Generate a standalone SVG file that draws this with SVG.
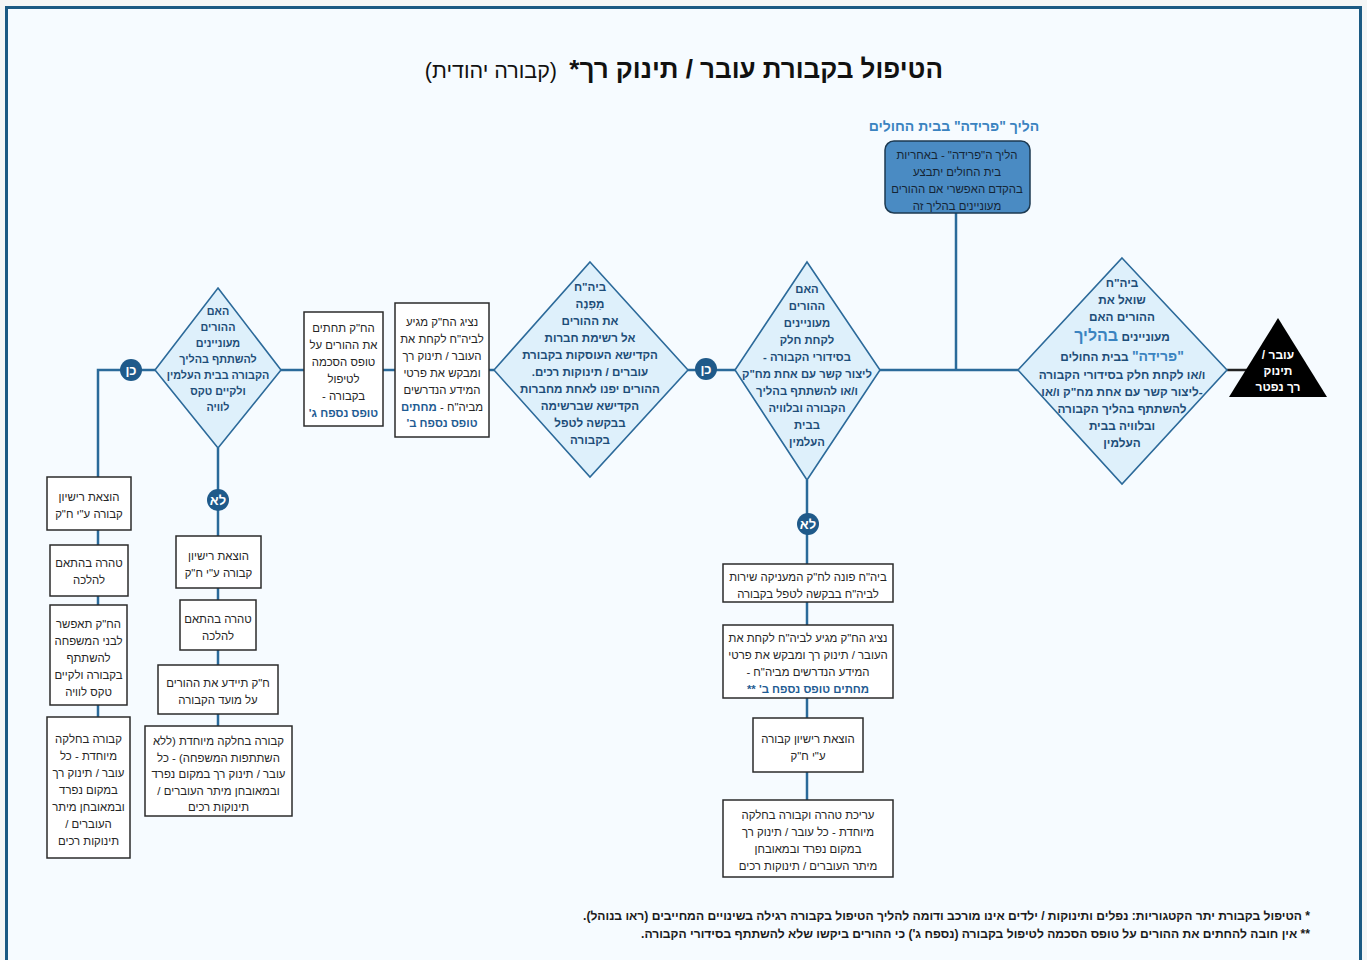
<svg xmlns="http://www.w3.org/2000/svg" width="1367" height="960" viewBox="0 0 1367 960">
<style>
text{font-family:"Liberation Sans","DejaVu Sans",sans-serif;direction:rtl;text-anchor:middle}
.bx{fill:#ffffff;stroke:#2b2b2b;stroke-width:1.5}
.dm{fill:#def0fb;stroke:#2c6a9a;stroke-width:1.6}
.bt{font-size:11.4px;fill:#262626}
.dt{font-size:11.6px;fill:#1d4d78;font-weight:bold}
.hb{font-weight:bold;fill:#1f5c93}
.ln{stroke:#2a6a9a;stroke-width:2.5;fill:none}
.cc{fill:#1f5a8a}
.ct{font-size:13px;font-weight:bold;fill:#ffffff}
</style>
<rect x="0" y="0" width="1367" height="960" fill="#f4f6f6"/>
<rect x="6.5" y="7.5" width="1354" height="960" fill="#f6fbff" stroke="#1b5a83" stroke-width="3"/>

<g id="title">
<text x="943" y="78" style="font-size:26px;font-weight:bold;fill:#111;text-anchor:start">הטיפול בקבורת עובר / תינוק רך*</text>
<text x="557" y="78" style="font-size:21.5px;fill:#111;text-anchor:start">(קבורה יהודית)</text>
</g>

<g id="connectors">
<line x1="1227" y1="370" x2="1252" y2="370" stroke="#222" stroke-width="2.5"/>
<line class="ln" x1="1018" y1="370" x2="880" y2="370"/>
<line class="ln" x1="956" y1="213" x2="956" y2="370"/>
<line class="ln" x1="735" y1="370" x2="688" y2="370"/>
<line class="ln" x1="494" y1="370" x2="489" y2="370"/>
<line class="ln" x1="395" y1="370" x2="383" y2="370"/>
<line class="ln" x1="304" y1="370" x2="281" y2="370"/>
<polyline class="ln" points="155,370 98,370 98,477"/>
<line class="ln" x1="98" y1="530" x2="98" y2="545"/>
<line class="ln" x1="98" y1="596" x2="98" y2="605"/>
<line class="ln" x1="98" y1="705" x2="98" y2="717"/>
<line class="ln" x1="218" y1="448" x2="218" y2="536"/>
<line class="ln" x1="218" y1="588" x2="218" y2="600"/>
<line class="ln" x1="218" y1="650" x2="218" y2="665"/>
<line class="ln" x1="218" y1="714" x2="218" y2="726"/>
<line class="ln" x1="807" y1="480" x2="807" y2="564"/>
<line class="ln" x1="807" y1="602" x2="807" y2="625"/>
<line class="ln" x1="807" y1="698" x2="807" y2="718"/>
<line class="ln" x1="807" y1="772" x2="807" y2="800"/>
<circle class="cc" cx="131" cy="370" r="11"/><text class="ct" x="131" y="375">כן</text>
<circle class="cc" cx="706" cy="369" r="11"/><text class="ct" x="706" y="374">כן</text>
<circle class="cc" cx="218" cy="500" r="11"/><text class="ct" x="218" y="505">לא</text>
<circle class="cc" cx="808" cy="524" r="11"/><text class="ct" x="808" y="529">לא</text>
</g>

<g id="hospital">
<text x="954" y="131" style="font-size:14px;font-weight:bold;fill:#3a83c0">הליך "פרידה" בבית החולים</text>
<rect x="885" y="141" width="145" height="72" rx="9" fill="#4a8bc3" stroke="#1d3a52" stroke-width="1.5"/>
<text class="bt" x="957" y="159" style="fill:#152535"><tspan x="957">הליך ה"פרידה" - באחריות</tspan><tspan x="957" dy="17">בית החולים יתבצע</tspan><tspan x="957" dy="17">בהקדם האפשרי אם ההורים</tspan><tspan x="957" dy="17">מעוניינים בהליך זה</tspan></text>
</g>

<g id="start">
<polygon points="1278,318 1327,397 1229,397" fill="#000"/>
<text x="1278" y="359" style="font-size:12px;font-weight:bold;fill:#fff"><tspan x="1278">עובר /</tspan><tspan x="1278" dy="16">תינוק</tspan><tspan x="1278" dy="16">רך נפטר</tspan></text>
</g>

<g id="d-right">
<polygon class="dm" points="1122,258 1227,370 1122,484 1018,370"/>
<text class="dt" x="1122" y="287" style="font-size:11.8px"><tspan x="1122">ביה"ח</tspan><tspan x="1122" dy="17">שואל את</tspan><tspan x="1122" dy="17">ההורים האם</tspan><tspan x="1122" dy="20">מעוניינים  <tspan style="font-size:16px;fill:#3a83c0">בהליך</tspan></tspan><tspan x="1122" dy="20"><tspan style="font-size:14px;fill:#3a83c0">"פרידה"</tspan> בבית החולים</tspan><tspan x="1122" dy="18">ו/או לקחת חלק בסידורי הקבורה</tspan><tspan x="1122" dy="17">-ליצור קשר עם אחת מח"ק ו/או</tspan><tspan x="1122" dy="17">להשתתף בהליך הקבורה</tspan><tspan x="1122" dy="17">ובלוויה בבית</tspan><tspan x="1122" dy="17">העלמין</tspan></text>
</g>

<g id="d-midright">
<polygon class="dm" points="807,262 880,370 807,480 735,370"/>
<text class="dt" x="807" y="293" style="font-size:11.3px"><tspan x="807">האם</tspan><tspan x="807" dy="17">ההורים</tspan><tspan x="807" dy="17">מעוניינים</tspan><tspan x="807" dy="17">לקחת חלק</tspan><tspan x="807" dy="17">בסידורי הקבורה -</tspan><tspan x="807" dy="17">ליצור קשר עם אחת מח"ק</tspan><tspan x="807" dy="17">ו/או להשתתף בהליך</tspan><tspan x="807" dy="17">הקבורה ובלוויה</tspan><tspan x="807" dy="17">בבית</tspan><tspan x="807" dy="17">העלמין</tspan></text>
</g>

<g id="d-mid">
<polygon class="dm" points="590,262 688,370 590,477 494,370"/>
<text class="dt" x="590" y="291"><tspan x="590">ביה"ח</tspan><tspan x="590" dy="17">מַפְנֶה</tspan><tspan x="590" dy="17">את ההורים</tspan><tspan x="590" dy="17">אל רשימת חברות</tspan><tspan x="590" dy="17">הקדישא העוסקות בקבורת</tspan><tspan x="590" dy="17">עוברים / תינוקות רכים.</tspan><tspan x="590" dy="17">ההורים יפנו לאחת מחברות</tspan><tspan x="590" dy="17">הקדישא שברשימה</tspan><tspan x="590" dy="17">בבקשה לטפל</tspan><tspan x="590" dy="17">בקבורה</tspan></text>
</g>

<g id="b-collect">
<rect class="bx" x="395" y="303" width="94" height="134"/>
<text class="bt" x="442" y="326"><tspan x="442">נציג הח"ק מגיע</tspan><tspan x="442" dy="17">לביה"ח לקחת את</tspan><tspan x="442" dy="17">העובר / תינוק רך</tspan><tspan x="442" dy="17">ומבקש את פרטי</tspan><tspan x="442" dy="17">המידע הנדרשים</tspan><tspan x="442" dy="16.5">מביה"ח - <tspan class="hb">מחתים</tspan></tspan><tspan x="442" dy="16.5" class="hb">טופס נספח ב'</tspan></text>
</g>

<g id="b-consent">
<rect class="bx" x="304" y="312" width="79" height="114"/>
<text class="bt" x="343.5" y="332"><tspan x="343.5">הח"ק תחתים</tspan><tspan x="343.5" dy="17">את ההורים על</tspan><tspan x="343.5" dy="17">טופס הסכמה</tspan><tspan x="343.5" dy="17">לטיפול</tspan><tspan x="343.5" dy="17">בקבורה -</tspan><tspan x="343.5" dy="16.5" class="hb">טופס נספח ג'</tspan></text>
</g>

<g id="d-left">
<polygon class="dm" points="218,288 281,370 218,448 155,370"/>
<text class="dt" x="218" y="315" style="font-size:10.8px"><tspan x="218">האם</tspan><tspan x="218" dy="16">ההורים</tspan><tspan x="218" dy="16">מעוניינים</tspan><tspan x="218" dy="16">להשתתף בהליך</tspan><tspan x="218" dy="16">הקבורה בבית העלמין</tspan><tspan x="218" dy="16">ולקיים טקס</tspan><tspan x="218" dy="16">לוויה</tspan></text>
</g>

<g id="l1">
<rect class="bx" x="47" y="477" width="84" height="53"/>
<text class="bt" x="89" y="501"><tspan x="89">הוצאת רישיון</tspan><tspan x="89" dy="17">קבורה ע"י ח"ק</tspan></text>
</g>
<g id="l2">
<rect class="bx" x="50" y="545" width="78" height="51"/>
<text class="bt" x="89" y="567"><tspan x="89">טהרה בהתאם</tspan><tspan x="89" dy="17">להלכה</tspan></text>
</g>
<g id="l3">
<rect class="bx" x="50" y="605" width="77" height="100"/>
<text class="bt" x="88.5" y="628"><tspan x="88.5">הח"ק תאפשר</tspan><tspan x="88.5" dy="17">לבני המשפחה</tspan><tspan x="88.5" dy="17">להשתתף</tspan><tspan x="88.5" dy="17">בקבורה ולקיים</tspan><tspan x="88.5" dy="17">טקס לוויה</tspan></text>
</g>
<g id="l4">
<rect class="bx" x="47" y="717" width="83" height="141"/>
<text class="bt" x="88.5" y="743"><tspan x="88.5">קבורה בחלקה</tspan><tspan x="88.5" dy="17">מיוחדת - כל</tspan><tspan x="88.5" dy="17">עובר / תינוק רך</tspan><tspan x="88.5" dy="17">במקום נפרד</tspan><tspan x="88.5" dy="17">ובמאובחן מיתר</tspan><tspan x="88.5" dy="17">העוברים /</tspan><tspan x="88.5" dy="17">תינוקות רכים</tspan></text>
</g>

<g id="m1">
<rect class="bx" x="176" y="536" width="85" height="52"/>
<text class="bt" x="218.5" y="560"><tspan x="218.5">הוצאת רישיון</tspan><tspan x="218.5" dy="17">קבורה ע"י ח"ק</tspan></text>
</g>
<g id="m2">
<rect class="bx" x="180" y="600" width="76" height="50"/>
<text class="bt" x="218" y="623"><tspan x="218">טהרה בהתאם</tspan><tspan x="218" dy="17">להלכה</tspan></text>
</g>
<g id="m3">
<rect class="bx" x="158" y="665" width="120" height="49"/>
<text class="bt" x="218" y="687"><tspan x="218">ח"ק תיידע את ההורים</tspan><tspan x="218" dy="17">על מועד הקבורה</tspan></text>
</g>
<g id="m4">
<rect class="bx" x="145" y="726" width="147" height="90"/>
<text class="bt" x="218.5" y="745"><tspan x="218.5">קבורה בחלקה מיוחדת (ללא</tspan><tspan x="218.5" dy="16.5">השתתפות המשפחה) - כל</tspan><tspan x="218.5" dy="16.5">עובר / תינוק רך במקום נפרד</tspan><tspan x="218.5" dy="16.5">ובמאובחן מיתר העוברים /</tspan><tspan x="218.5" dy="16.5">תינוקות רכים</tspan></text>
</g>

<g id="r1">
<rect class="bx" x="723" y="564" width="170" height="38"/>
<text class="bt" x="808" y="581"><tspan x="808">ביה"ח פונה לח"ק המעניקה שירות</tspan><tspan x="808" dy="16.5">לביה"ח בבקשה לטפל בקבורה</tspan></text>
</g>
<g id="r2">
<rect class="bx" x="723" y="625" width="170" height="73"/>
<text class="bt" x="808" y="642"><tspan x="808">נציג הח"ק מגיע לביה"ח לקחת את</tspan><tspan x="808" dy="17">העובר / תינוק רך ומבקש את פרטי</tspan><tspan x="808" dy="17">המידע הנדרשים מביה"ח -</tspan><tspan x="808" dy="17" class="hb">מחתים טופס נספח ב' **</tspan></text>
</g>
<g id="r3">
<rect class="bx" x="753" y="718" width="110" height="54"/>
<text class="bt" x="808" y="743"><tspan x="808">הוצאת רישיון קבורה</tspan><tspan x="808" dy="17">ע"י ח"ק</tspan></text>
</g>
<g id="r4">
<rect class="bx" x="723" y="800" width="170" height="77"/>
<text class="bt" x="808" y="819"><tspan x="808">עריכת טהרה וקבורה בחלקה</tspan><tspan x="808" dy="17">מיוחדת - כל עובר / תינוק רך</tspan><tspan x="808" dy="17">במקום נפרד ובמאובחן</tspan><tspan x="808" dy="17">מיתר העוברים / תינוקות רכים</tspan></text>
</g>

<g id="notes">
<text x="1310" y="920" style="font-size:12.1px;fill:#1a1a1a;text-anchor:start;font-weight:bold">* הטיפול בקבורת יתר הקטגוריות: נפלים ותינוקות / ילדים אינו מורכב ודומה להליך הטיפול בקבורה רגילה בשינויים המחייבים (ראו בנוהל).</text>
<text x="1310" y="938" style="font-size:12.1px;fill:#1a1a1a;text-anchor:start;font-weight:bold">** אין חובה להחתים את ההורים על טופס הסכמה לטיפול בקבורה (נספח ג') כי ההורים ביקשו שלא להשתתף בסידורי הקבורה.</text>
</g>
</svg>
